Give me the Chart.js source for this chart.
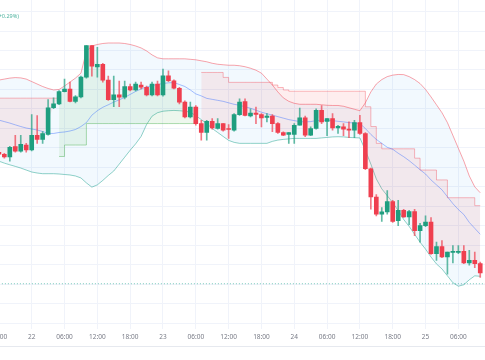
<!DOCTYPE html>
<html><head><meta charset="utf-8">
<script src="https://cdn.jsdelivr.net/npm/chart.js@4.4.1/dist/chart.umd.min.js"></script>
<style>
html,body{margin:0;padding:0;background:#fff;}
#wrap{position:relative;width:485px;height:360px;overflow:hidden;}
#legend{position:absolute;right:466px;top:12px;font:5.5px "Noto Sans",sans-serif;color:#4fb3a0;white-space:nowrap;}
</style></head><body>
<div id="wrap"><canvas id="c" width="485" height="360"></canvas><div id="legend">(+0.29%)</div></div>
<script>
const N = null;
const hours = [-6,-5,-4,-3,-2,-1,0,1,2,3,4,5,6,7,8,9,10,11,12,13,14,15,16,17,18,19,20,21,22,23,24,25,26,27,28,29,30,31,32,33,34,35,36,37,38,39,40,41,42,43,44,45,46,47,48,49,50,51,52,53,54,55,56,57,58,59,60,61,62,63,64,65,66,67,68,69,70,71,72,73,74,75,76,77,78,79,80,81,82];
const open = [193,191,188.3,198.7,194,200.3, 195.3,210,206,211,238,242,254.3,257,244.3,249, 269,301,279.3,282,266,246.3,251,248.7,259.3,256, 261,258.7,251,262,251,270.3,265.3,257.7,243.7,228.7, 238.7,222,213,224.3,217,222,217,215.3,231,244.3, 229.7,232.7,231,228.3,229.7,222,213,211,211,220.3, 227.7,210.3,217,235.3,224.3,227,217.7,218.7,216.3,215.3, 223,212,176.3,147.7,130.3,132.7,143,123.7,134.3,127.7, 133,113.7,118.7,122.3,90.3,97.7,87,91.7,91.7,92.7, 81,83.7,80.3];
const high = [195,192,199,210,210,202, 231,230,214,246.3,248,255.3,267,264,250.3,270, 301,301,299,283,270,270,265,265,262,264, 264,260,264,265,277,275.3,266.3,258.7,245,243.7, 240.3,225.3,225.3,227,227,222,221,232,247,247, 237,238.7,232,232,231,223,213.7,213,222,237.7, 229.7,218.7,237,240.3,227,232,220.3,222,223.7,225.3, 230.3,213,177,150.3,137,154.3,144.3,144.3,135.3,134.3, 135.3,121,128.7,127,102,103.7,92,98.7,98.7,98.7, 93.7,92,82];
const low = [190,187,184,193,193,193, 194.3,202,202,210.3,237,241,254,244,243,248, 268,270,269,264,245.3,239,239,247,255,255, 257,250,250,250,249.7,264.3,257,242,227.7,227.7, 220.3,205.3,205.3,216.3,216.3,214.3,207,214.3,230.3,229.7, 228.7,222,218.7,223.7,213.7,212,209.7,202,202,220.3, 208.7,209.7,216.3,222,209.7,215.3,212,209.7,207.7,207.7, 211,175.3,135.3,128.7,123,130.3,122,118.7,127,119.7, 108.7,102,117.7,89.7,83.7,86.3,69.7,81,90.3,80.3, 78.7,76.3,66.3];
const close = [191,188.3,198,194,201,195.3, 210,206,212,238,242,254.3,257,244.3,249,269, 301,280,282,266,246.3,251,248.7,259.3,256,262, 258.7,251,262,251,270.3,265.3,257.7,243.7,228.7,238.7, 222,213,224.3,217.7,222,215.3,216,231,243.7,230.3, 232.7,231.3,227.7,229.7,222,213,210.3,213,220.3,227.7, 210.3,217,235.3,223.7,227,217.7,219.3,216.3,215.3,223, 212,176.3,147.7,130.3,132.7,143,123,134.3,127.7,133, 113.7,118.7,122.3,90.3,97.7,87,92,92.7,92.7,81, 83.7,80.3,71];
const bbUpper = [266,267,268,268.5,268.2,267, 264.5,262,259.5,257.5,256,256.5,260,264,268,273, 295,300.5,302,303,303.5,303.5,303.5,303,302,300.5, 298.5,295.5,291.5,288.5,287.5,287.5,287.5,287.5,287.5,287, 286.5,285.5,284.5,283,282,281.5,281,281,280.5,279.5, 278,276,273,267,261,254,248,244.5,242.5,241.5, 241.5,241.5,241.5,241,240.5,240.3,240.3,239.5,238,236.5, 235,243,254,262,266.5,269.5,271,271.7,271.5,269.5, 266.5,262.5,256.5,249,241,233,223,210,197,184, 169,158,152];
const bbBasis = [225.5,224,222.5,220.7,219,217.5, 216.5,215.5,214,212,212,213,213.5,214.5,216,219, 223,230.5,235,238.5,241,243.7,246,248.5,251.5,254.5, 257,259,260.5,261.5,262.5,263.2,263.5,261.5,259.5,256, 252,250,247.5,246.5,245.5,244.5,243,241.5,240.5,239, 237.5,235.5,233.5,232,230.5,229,227.5,226,225,224, 223.7,224,225,225.3,225.3,225,224.3,223.7,223,222.5, 222,217,211,206,202,198,196,192,188.5,184.5, 180,175.3,171,165,160,155,148,141,135,130, 122,116,110];
const bbLower = [184,182,180.3,178.7,177,175, 173,172,171.3,171.3,171.3,171,170.5,170,169,167, 162,157.7,160,164.5,169.5,174,181,188,195,201.5, 209,221,229.5,233,234.5,235,235.3,235,234.5,233.5, 230,226,222,217,213,209,205,203,202,202, 202,202,202,202,204,205.3,206,206.5,207,207, 207,207,207,207.5,208,208.5,208.7,208.5,208,207.7, 207.5,195,181,166,156,149,142,134,125,118, 110,102,95,87,80,75,68,61,57.5,59, 64,68,67.5];
const stDown = [247.7,247.7,247.7,247.7,247.7,247.7, 247.7,247.7,247.7,247.7,247.7,247.7,N,N,N,N, N,N,N,N,N,N,N,N,N,N, N,N,N,N,N,N,N,N,N,N, N,273.7,273.7,273.7,273.7,268.7,263.7,263.7,263.7,263.7, 263.7,263.7,263.7,263.7,261,258.5,256,254.7,254.7,254.7, 254.7,254.7,254.7,254.7,254.7,254.7,254.7,254.7,254.7,254.7, 254.7,239,219,202,196.5,196.5,196.5,196.5,196.5,196.5, 187,175,175,175,165,165,147,147,147,147, 147,139,139];
const stUp = [N,N,N,N,N,N, N,N,N,N,N,188.7,200.3,200.3,200.3,200.3, 222,222,222,222,222,222,222,222,222,222, 222,222,222,222,222,222,222,222,222,222, 222,N,N,N,N,N,N,N,N,N, N,N,N,N,N,N,N,N,N,N, N,N,N,N,N,N,N,N,N,N, N,N,N,N,N,N,N,N,N,N, N,N,N,N,N,N,N,N,N,N, N,N,N];
const lastPrice = 60;
const xTickHours = [-6,0,6,12,18,24,30,36,42,48,54,60,66,72,78];
const yGridValues = [20.1,39.8,59.5,79.2,98.9,118.6,138.3,158,177.7,197.4,217.1,236.8,256.5,276.2,295.9,315.6,335.3];
const firstDay = 22;

const UP = '#1f9e7f', DOWN = '#ef3f4f';
const isUp = hours.map((h,i) => close[i] >= open[i]);
const pts = arr => hours.map((h,i) => ({x:h, y:arr[i]}));
const tickLabel = v => {
  const hh = ((v % 24) + 24) % 24;
  if (hh === 0) return String(firstDay + Math.floor(v / 24));
  return (hh < 10 ? '0' : '') + hh + ':00';
};
const bottomRule = {id:'bottomRule', afterDraw(c){const ctx=c.ctx;ctx.save();ctx.strokeStyle='#e6e9ef';ctx.lineWidth=1;ctx.beginPath();ctx.moveTo(0,346.5);ctx.lineTo(c.width,346.5);ctx.stroke();ctx.restore();}};

new Chart(document.getElementById('c'), {
  type: 'line',
  data: { datasets: [
    {type:'bar', label:'wick', data: hours.map((h,i)=>({x:h,y:[low[i],high[i]]})), backgroundColor: isUp.map(u=>u?'rgba(31,158,127,0.7)':'rgba(239,63,79,0.7)'), barThickness:1, grouped:false, minBarLength:1, order:1},
    {type:'bar', label:'body', data: hours.map((h,i)=>({x:h,y:[Math.min(open[i],close[i]),Math.max(open[i],close[i])]})), backgroundColor: isUp.map(u=>u?UP:DOWN), barThickness:4, grouped:false, minBarLength:1, order:0},
    {type:'line', label:'mid', data: hours.map((h,i)=>({x:h,y:(open[i]+close[i])/2})), borderColor:'rgba(0,0,0,0)', borderWidth:1, pointRadius:0, order:5},
    {type:'line', label:'stDown', data: pts(stDown), stepped:true, spanGaps:false, borderColor:'rgba(242,54,69,0.35)', borderWidth:1, pointRadius:0, fill:2, backgroundColor:'rgba(242,54,69,0.09)', order:4},
    {type:'line', label:'stUp', data: pts(stUp), stepped:true, spanGaps:false, borderColor:'rgba(76,175,80,0.45)', borderWidth:1, pointRadius:0, fill:2, backgroundColor:'rgba(76,175,80,0.1)', order:4},
    {type:'line', label:'upper', data: pts(bbUpper), borderColor:'rgba(242,54,69,0.45)', borderWidth:1, pointRadius:0, fill:7, backgroundColor:'rgba(33,150,243,0.06)', order:6},
    {type:'line', label:'basis', data: pts(bbBasis), borderColor:'rgba(41,98,255,0.4)', borderWidth:1, pointRadius:0, order:3},
    {type:'line', label:'lower', data: pts(bbLower), borderColor:'rgba(8,153,129,0.45)', borderWidth:1, pointRadius:0, order:6},
    {type:'line', label:'price', data:[{x:-6,y:lastPrice},{x:83,y:lastPrice}], borderColor:'rgba(8,153,129,0.55)', borderDash:[1,2], borderWidth:1, pointRadius:0, order:2}
  ]},
  options: {
    responsive:false, animation:false,
    layout:{padding:{left:0,right:0,top:0,bottom:15}},
    plugins:{legend:{display:false}, tooltip:{enabled:false}},
    scales:{
      x:{type:'linear', min:-5.795, max:82.87, offset:false,
         grid:{color:'#f0f3fa', drawTicks:false, offset:false}, border:{display:false},
         afterBuildTicks: s => { s.ticks = xTickHours.map(v=>({value:v})); },
         afterFit: s => { s.paddingLeft = 0; s.paddingRight = 0; },
         ticks:{autoSkip:false, maxRotation:0, padding:4, color:'#787b86', font:{size:6.5, family:'"Noto Sans", sans-serif'}, callback: v => tickLabel(v)}},
      y:{type:'linear', min:14, max:347, grid:{color:'#f0f3fa', drawTicks:false}, border:{display:false},
         afterBuildTicks: s => { s.ticks = yGridValues.map(v=>({value:v})); },
         ticks:{display:false}, afterFit: s => { s.width = 0; s.paddingTop = 0; s.paddingBottom = 0; }}
    }
  },
  plugins:[bottomRule]
});
</script>
</body></html>
